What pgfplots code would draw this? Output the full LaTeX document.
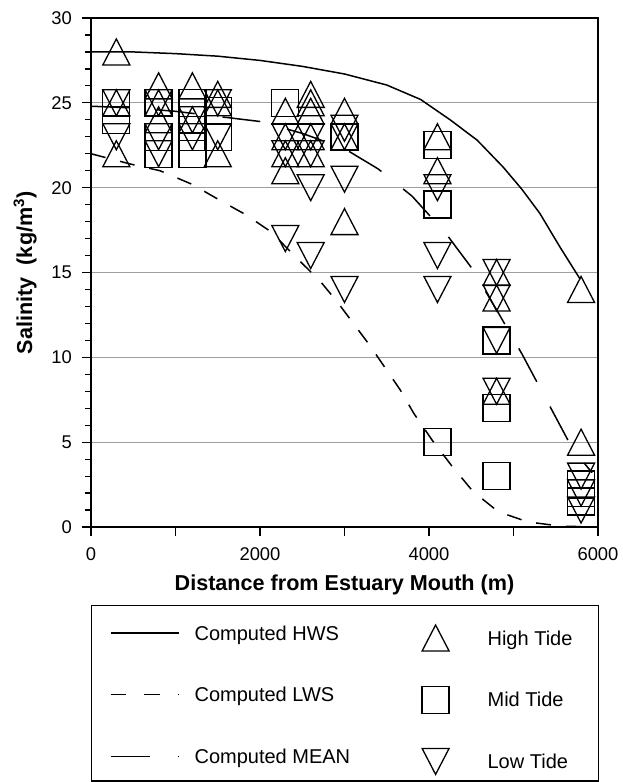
\documentclass[border=0pt]{standalone}
\usepackage{pgfplots}
\pgfplotsset{compat=1.18}
\usepackage{fontspec}
\setmainfont{Liberation Sans}

\pgfdeclareplotmark{tup}{%
  \pgfpathmoveto{\pgfpoint{0pt}{6.5pt}}%
  \pgfpathlineto{\pgfpoint{-6.75pt}{-6.5pt}}%
  \pgfpathlineto{\pgfpoint{6.75pt}{-6.5pt}}%
  \pgfpathclose\pgfusepathqstroke}
\pgfdeclareplotmark{tdown}{%
  \pgfpathmoveto{\pgfpoint{0pt}{-6.5pt}}%
  \pgfpathlineto{\pgfpoint{-6.75pt}{6.5pt}}%
  \pgfpathlineto{\pgfpoint{6.75pt}{6.5pt}}%
  \pgfpathclose\pgfusepathqstroke}
\pgfdeclareplotmark{sq}{%
  \pgfpathrectangle{\pgfpoint{-6.75pt}{-6.75pt}}{\pgfpoint{13.5pt}{13.5pt}}%
  \pgfusepathqstroke}

\pgfplotsset{
  legline/.style={legend image code/.code={\path[draw=none,fill=none,solid] (0pt,-6.2pt) rectangle (51.5pt,14.8pt); \draw[##1] (9.5pt,3.6pt) -- (43.7pt,3.6pt);}},
  legmark/.style={legend image code/.code={\path[draw=none,fill=none] (0pt,-6.2pt) rectangle (43pt,14.8pt); \draw[##1] plot coordinates {(17pt,1.1pt)};}},
}

\pgfplotstableread{
x y
0 28.0
500 28.0
1000 27.9
1500 27.75
2000 27.5
2500 27.15
3000 26.7
3500 26.05
3900 25.2
4250 24.0
4570 22.8
4880 21.2
5100 19.9
5310 18.5
5550 16.5
5790 14.6
}\hws

\pgfplotstableread{
x y
0 22.0
460 21.4
816 21.0
1195 20.2
1510 19.3
1834 18.4
2130 17.4
2425 15.9
2710 14.5
2910 13.3
3300 10.7
3657 8.1
3820 6.7
4040 5.1
4270 3.6
4520 2.1
4820 0.9
5170 0.3
5560 0.05
6000 0.0
}\lws

\pgfplotstableread{
x y
0 24.8
500 24.7
1000 24.5
1500 24.2
2000 23.9
2500 23.2
3000 22.3
3400 21.1
3800 19.5
4200 17.3
4500 15.3
4800 12.8
5100 10.2
5400 7.4
5700 4.6
5930 3.2
}\mean

\pgfplotstableread{
x y
300 28
300 25
300 22
800 26
800 25
800 24
1200 26
1200 24
1500 25.5
1500 25
1500 22
2300 24.5
2300 23
2300 22
2300 21
2600 25.5
2600 25
2600 24.5
2600 23
2600 22
3000 24.5
3000 23
3000 18
4100 23
4100 21
4800 15
4800 13.5
4800 8
5800 14
5800 5
}\high

\pgfplotstableread{
x y
300 25
300 24
800 25
800 23
800 22
1200 25
1200 24
1200 23
1200 22
1500 24.5
1500 23
2300 25
3000 23
4100 22.5
4100 19
4100 5
4800 11
4800 7
4800 3
5800 2.5
5800 2
5800 1.5
}\mid

\pgfplotstableread{
x y
300 25
300 23
800 25
800 23
800 22
1200 24
1200 23
1500 25
1500 23
2300 23
2300 22
2300 17
2600 23
2600 22
2600 20
2600 16
3000 23.5
3000 23
3000 20.5
3000 14
4100 20
4100 16
4100 14
4800 15
4800 13.5
4800 11
4800 8
5800 3
5800 2
5800 1
}\low

\begin{document}
\begin{tikzpicture}
\begin{axis}[
  at={(0pt,0pt)}, anchor=south west,
  width=253.5pt, height=254.5pt, scale only axis,
  xmin=0, xmax=6000, ymin=0, ymax=30,
  xtick={0,1000,...,6000}, xticklabels={0,,2000,,4000,,6000},
  ytick={0,5,...,30}, minor y tick num=4,
  xtick pos=bottom, ytick pos=left,
  tick align=outside, major tick length=4.5pt, minor tick length=3pt,
  tick style={black, line width=0.6pt},
  axis line style={line width=0.8pt},
  ymajorgrids, grid style={gray!75, line width=0.5pt},
  scaled x ticks=false,
  /pgf/number format/assume math mode=true,
  /pgf/number format/set thousands separator={},
  tick label style={font=\fontsize{9.2}{11}\selectfont},
  xticklabel style={yshift=-2.5pt},
  yticklabel style={xshift=-1.5pt},
  xlabel={\textbf{Distance from Estuary Mouth (m)}},
  xlabel style={at={(axis description cs:0.5,0)}, anchor=base, yshift=-31.5pt, font=\fontsize{10.8}{13}\selectfont},
  ylabel={\textbf{Salinity \ (kg/m\textsuperscript{3})}},
  ylabel style={at={(axis description cs:-0.116,0.5)}, anchor=base, font=\fontsize{10.8}{13}\selectfont},
  legend columns=2,
  legend cell align=left,
  legend style={
    at={(axis description cs:0,0)}, anchor=north west, yshift=-39pt, xshift=0pt,
    draw=black, line width=0.6pt, inner xsep=0pt, inner ysep=2.5pt,
    font=\fontsize{10}{12}\selectfont,
    row sep=9.85pt, column sep=0pt,
    nodes={inner sep=0pt, anchor=base west},
  },
]
\addplot[black, line width=0.75pt, forget plot] table[x=x,y=y] {\hws};
\addplot[black, line width=0.75pt, dash pattern=on 7.5pt off 7.5pt, forget plot] table[x=x,y=y] {\lws};
\addplot[black, line width=0.75pt, dash pattern=on 19pt off 14pt, forget plot] table[x=x,y=y] {\mean};
\addplot[black, only marks, mark=tup, line width=0.65pt, forget plot] table[x=x,y=y] {\high};
\addplot[black, only marks, mark=sq, line width=0.65pt, forget plot] table[x=x,y=y] {\mid};
\addplot[black, only marks, mark=tdown, line width=0.65pt, forget plot] table[x=x,y=y] {\low};

\addlegendimage{black, line width=0.75pt, legline}
\addlegendentry{\makebox[103.5pt][l]{Computed HWS}}
\addlegendimage{black, only marks, mark=tup, line width=0.65pt, legmark}
\addlegendentry{\makebox[55.5pt][l]{\raisebox{-2.5pt}{High Tide}}}
\addlegendimage{black, line width=0.75pt, dash pattern=on 7.75pt off 9.1pt, legline}
\addlegendentry{\makebox[103.5pt][l]{Computed LWS}}
\addlegendimage{black, only marks, mark=sq, line width=0.65pt, legmark}
\addlegendentry{\makebox[55.5pt][l]{\raisebox{-2.5pt}{Mid Tide}}}
\addlegendimage{black, line width=0.75pt, dash pattern=on 19.5pt off 14pt, legline}
\addlegendentry{\makebox[103.5pt][l]{Computed MEAN}}
\addlegendimage{black, only marks, mark=tdown, line width=0.65pt, legmark}
\addlegendentry{\makebox[55.5pt][l]{\raisebox{-2.5pt}{Low Tide}}}
\end{axis}
\pgfresetboundingbox
\path[use as bounding box] (-45.5pt,-127.5pt) rectangle (265.5pt,263.5pt);
\end{tikzpicture}
\end{document}
